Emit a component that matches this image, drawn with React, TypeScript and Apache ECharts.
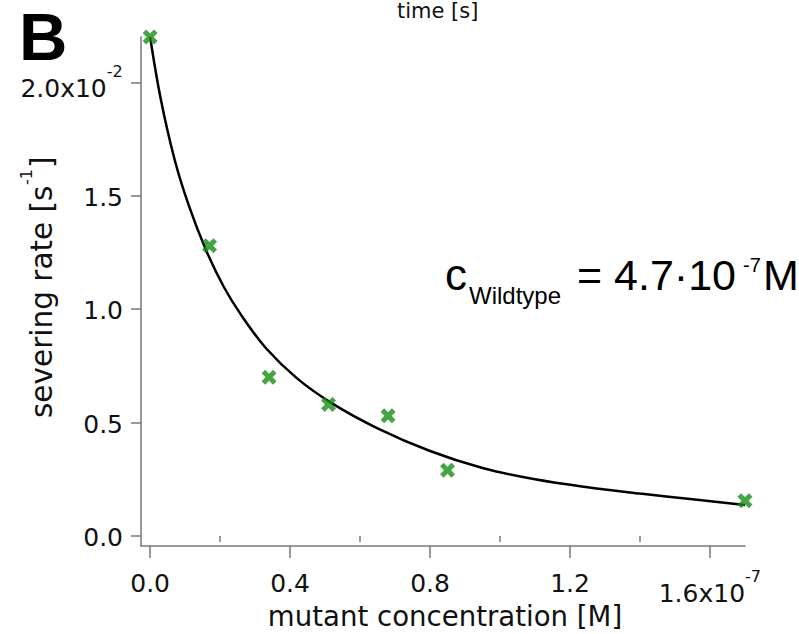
import React, { useEffect, useRef } from "react";
import * as echarts from "echarts";

// x values in units of 1e-7 M, y values in units of 1e-2 s^-1
const pointsX = [0, 0.17, 0.34, 0.51, 0.68, 0.85, 1.7];
const pointsY = [2.2, 1.28, 0.7, 0.58, 0.53, 0.29, 0.156];

// fitted curve
const fitX = [0, 0.03, 0.07, 0.11, 0.16, 0.21, 0.26, 0.33, 0.42, 0.52, 0.65, 0.8, 0.95, 1.1, 1.25, 1.4, 1.55, 1.7];
const fitY = [2.2, 1.93, 1.66, 1.46, 1.26, 1.1, 0.975, 0.83, 0.695, 0.585, 0.475, 0.375, 0.3, 0.25, 0.215, 0.187, 0.162, 0.137];

const xTicks = [0, 0.4, 0.8, 1.2, 1.6];
const xTickLabels = ["0.0", "0.4", "0.8", "1.2", "1.6x10"];
const xTickExp = ["", "", "", "", "-7"];
const xMinorTicks = [0.2, 0.6, 1.0, 1.4];
const yTicks = [0, 0.5, 1.0, 1.5, 2.0];
const yTickLabels = ["0.0", "0.5", "1.0", "1.5", "2.0x10"];
const yTickExp = ["", "", "", "", "-2"];

const AXIS_FONT = "DejaVu Sans";
const AXIS_GRAY = "#777777";
const TEXT = "#111111";

const tickRich = {
  m: { fontSize: 25, fontFamily: AXIS_FONT, color: TEXT, lineHeight: 28, verticalAlign: "bottom" },
  s: { fontSize: 16, fontFamily: AXIS_FONT, color: TEXT, lineHeight: 18, verticalAlign: "top" },
  p: { fontSize: 1, lineHeight: 38 },
};

function makeFormatter(ticks: number[], labels: string[], exps: string[]) {
  return (v: number) => {
    const i = ticks.findIndex((t) => Math.abs(t - v) < 1e-9);
    if (i < 0) return "";
    return exps[i] ? `{m|${labels[i]}}{s|${exps[i]}}{p| }` : `{m|${labels[i]}}`;
  };
}

const xMarker = "path://M0,2.4 L2.4,0 L5,2.6 L7.6,0 L10,2.4 L7.4,5 L10,7.6 L7.6,10 L5,7.4 L2.4,10 L0,7.6 L2.6,5 Z";

export default function App() {
  const ref = useRef<HTMLDivElement>(null);
  useEffect(() => {
    if (!ref.current) return;
    const chart = echarts.init(ref.current, null, { renderer: "svg" });
    const fit = fitX.map((x, i) => [x, fitY[i]]);
    const pts = pointsX.map((x, i) => [x, pointsY[i]]);
    const rot = Math.PI / 2;
    chart.setOption({
      animation: false,
      backgroundColor: "#ffffff",
      grid: { left: 141, right: 54, top: 37, bottom: 88, containLabel: false, outerBoundsMode: "none" },
      xAxis: [
        {
          type: "value",
          min: -0.026,
          max: 1.7,
          position: "bottom",
          axisLine: { show: true, onZero: false, lineStyle: { color: AXIS_GRAY, width: 1.5 } },
          axisTick: { show: true, customValues: xTicks, length: 12, lineStyle: { color: AXIS_GRAY, width: 1.5 } },
          axisLabel: { show: true, customValues: xTicks, margin: 22, formatter: makeFormatter(xTicks, xTickLabels, xTickExp), rich: tickRich },
          splitLine: { show: false },
        },
        {
          type: "value",
          min: -0.026,
          max: 1.7,
          position: "bottom",
          axisLine: { show: false },
          axisTick: { show: true, customValues: xMinorTicks, length: 6, lineStyle: { color: AXIS_GRAY, width: 1.5 } },
          axisLabel: { show: false },
          splitLine: { show: false },
        },
      ],
      yAxis: {
        type: "value",
        min: -0.044,
        max: 2.2,
        axisLine: { show: true, onZero: false, lineStyle: { color: AXIS_GRAY, width: 1.5 } },
        axisTick: { show: true, customValues: yTicks, length: 10, lineStyle: { color: AXIS_GRAY, width: 1.5 } },
        axisLabel: { show: true, customValues: yTicks, margin: 18, formatter: makeFormatter(yTicks, yTickLabels, yTickExp), rich: tickRich },
        splitLine: { show: false },
      },
      series: [
        {
          type: "line",
          data: fit,
          xAxisIndex: 0,
          smooth: 0.35,
          showSymbol: false,
          symbol: "none",
          clip: false,
          lineStyle: { color: "#000000", width: 2.5 },
          z: 2,
        },
        {
          type: "scatter",
          data: pts,
          xAxisIndex: 0,
          symbol: xMarker,
          symbolSize: 15,
          clip: false,
          itemStyle: { color: "#158f15" },
          z: 3,
        },
      ],
      graphic: [
        {
          type: "text",
          x: 19,
          y: 60 - 0.3465 * 67,
          style: { text: "B", font: "bold 67px 'Liberation Sans'", fill: "#000", textAlign: "left", verticalAlign: "middle" },
        },
        {
          type: "text",
          x: 397,
          y: 18 - 0.346 * 21,
          style: { text: "time [s]", font: `21px '${AXIS_FONT}'`, fill: TEXT, textAlign: "left", verticalAlign: "middle" },
        },
        {
          type: "text",
          x: 445,
          y: 290 - 0.3465 * 44,
          style: { text: "c", font: "44px 'Liberation Sans'", fill: "#000", textAlign: "left", verticalAlign: "middle" },
        },
        {
          type: "text",
          x: 469,
          y: 304 - 0.3465 * 24,
          style: { text: "Wildtype", font: "24px 'Liberation Sans'", fill: "#000", textAlign: "left", verticalAlign: "middle" },
        },
        {
          type: "text",
          x: 577,
          y: 290 - 0.3465 * 43,
          style: { text: "= 4.7·10", font: "43px 'Liberation Sans'", fill: "#000", textAlign: "left", verticalAlign: "middle" },
        },
        {
          type: "text",
          x: 743,
          y: 272 - 0.3465 * 20,
          style: { text: "-7", font: "20px 'Liberation Sans'", fill: "#000", textAlign: "left", verticalAlign: "middle" },
        },
        {
          type: "text",
          x: 763,
          y: 290 - 0.3465 * 43,
          style: { text: "M", font: "43px 'Liberation Sans'", fill: "#000", textAlign: "left", verticalAlign: "middle" },
        },
        {
          type: "text",
          x: 445,
          y: 626 - 0.346 * 27.6,
          style: { text: "mutant concentration [M]", font: `27.6px '${AXIS_FONT}'`, fill: TEXT, textAlign: "center", verticalAlign: "middle" },
        },
        {
          type: "text",
          x: 52 - 0.346 * 29.5,
          y: 418,
          rotation: rot,
          style: { text: "severing rate [s", font: `29.5px '${AXIS_FONT}'`, fill: TEXT, textAlign: "left", verticalAlign: "middle" },
        },
        {
          type: "text",
          x: 26,
          y: 185,
          rotation: rot,
          style: { text: "-1", font: `16px '${AXIS_FONT}'`, fill: TEXT, textAlign: "left", verticalAlign: "middle" },
        },
        {
          type: "text",
          x: 52 - 0.346 * 29.5,
          y: 168,
          rotation: rot,
          style: { text: "]", font: `29.5px '${AXIS_FONT}'`, fill: TEXT, textAlign: "left", verticalAlign: "middle" },
        },
      ],
    });
    return () => chart.dispose();
  }, []);
  return <div ref={ref} style={{ width: 799, height: 634, position: "absolute", left: 0, top: 0 }} />;
}
